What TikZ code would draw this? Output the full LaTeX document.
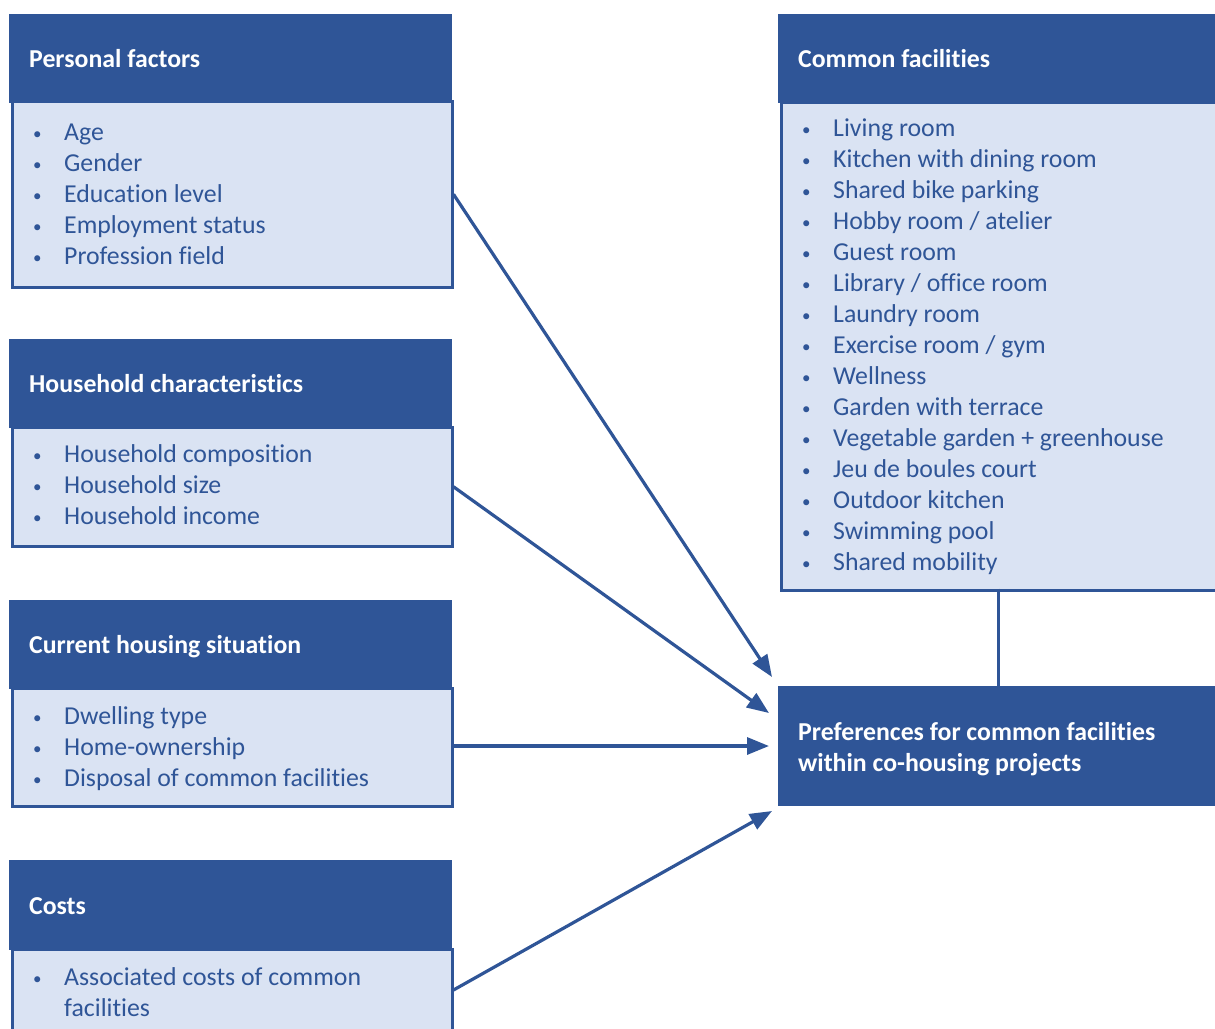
\documentclass[tikz,border=0pt]{standalone}
\usepackage{fontspec}
\setmainfont{Carlito}[Ligatures={NoCommon}]
\usetikzlibrary{arrows.meta}
\definecolor{dkblue}{HTML}{2F5597}
\definecolor{ltblue}{HTML}{DAE3F3}
\newcommand{\itemfont}{\fontsize{25.8}{31}\selectfont}
\newcommand{\ttlfont}{\fontsize{25.8}{31}\selectfont\bfseries}
\newcommand{\bul}{{\fontsize{17}{17}\selectfont\raisebox{1pt}{•}}}
\newcommand{\blist}[1]{\begin{tabular}[t]{@{}p{31pt}@{}l@{}}#1\end{tabular}}
\tikzset{
  hdr/.style={fill=dkblue, draw=none, inner sep=0, anchor=north west},
  bodybox/.style={fill=ltblue, draw=dkblue, line width=3pt, inner sep=0, anchor=north west},
  ttl/.style={anchor=base west, inner sep=0, text=white, font=\ttlfont},
  lst/.style={anchor=base west, inner sep=0, text=dkblue, font=\itemfont},
  conn/.style={draw=dkblue, line width=3.2pt, -{Triangle[length=22pt,width=17pt]}},
  link/.style={draw=dkblue, line width=3pt}
}
\begin{document}
\begin{tikzpicture}[x=1pt,y=-1pt]
\useasboundingbox (0,0) rectangle (1215,1028);
% Personal factors
\node[bodybox, minimum width=440, minimum height=185.5] (pfb) at (10.5,100) {};
\node[hdr, minimum width=443, minimum height=89] (pfh) at (9,14) {};
\node[ttl] (pft) at (29,67) {Personal factors};
\node[lst] (pfl) at (33,140) {\blist{\bul & Age\\ \bul & Gender\\ \bul & Education level\\ \bul & Employment status\\ \bul & Profession field}};
% Household characteristics
\node[bodybox, minimum width=440, minimum height=118.5] (hcb) at (10.5,426) {};
\node[hdr, minimum width=443, minimum height=89] (hch) at (9,339) {};
\node[ttl] (hct) at (29,392) {Household characteristics};
\node[lst] (hcl) at (33,462) {\blist{\bul & Household composition\\ \bul & Household size\\ \bul & Household income}};
% Current housing situation
\node[bodybox, minimum width=440, minimum height=117.5] (chb) at (10.5,687) {};
\node[hdr, minimum width=443, minimum height=89] (chh) at (9,600) {};
\node[ttl] (cht) at (29,653) {Current housing situation};
\node[lst] (chl) at (33,724) {\blist{\bul & Dwelling type\\ \bul & Home-ownership\\ \bul & Disposal of common facilities}};
% Costs
\node[bodybox, minimum width=440, minimum height=132] (cob) at (10.5,948) {};
\node[hdr, minimum width=443, minimum height=90] (coh) at (9,860) {};
\node[ttl] (cot) at (29,914) {Costs};
\node[lst] (col) at (33,985) {\blist{\bul & Associated costs of common\\ & facilities}};
% Common facilities
\node[bodybox, minimum width=450, minimum height=487.5] (cfb) at (779.5,101) {};
\node[hdr, minimum width=445, minimum height=89] (cfh) at (778,14) {};
\node[ttl] (cft) at (798,67) {Common facilities};
\node[lst] (cfl) at (802,136) {\blist{\bul & Living room\\ \bul & Kitchen with dining room\\ \bul & Shared bike parking\\ \bul & Hobby room / atelier\\ \bul & Guest room\\ \bul & Library / office room\\ \bul & Laundry room\\ \bul & Exercise room / gym\\ \bul & Wellness\\ \bul & Garden with terrace\\ \bul & Vegetable garden + greenhouse\\ \bul & Jeu de boules court\\ \bul & Outdoor kitchen\\ \bul & Swimming pool\\ \bul & Shared mobility}};
% Preferences
\node[hdr, minimum width=442, minimum height=120] (pref) at (778,686) {};
\node[ttl, align=left] (preft) at (798,771) {Preferences for common facilities\\ within co-housing projects};
% connectors
\coordinate (t1) at (772,677);
\coordinate (t2) at (769,713);
\coordinate (t3) at (769,746);
\coordinate (t4) at (772,811);
\draw[conn] (pfb.east) -- (t1);
\draw[conn] (hcb.east) -- (t2);
\draw[conn] (chb.east |- t3) -- (t3);
\draw[conn] (cob.east |- 0,990) -- (t4);
\draw[link] (998,588.5) -- (998,686);
\end{tikzpicture}
\end{document}
